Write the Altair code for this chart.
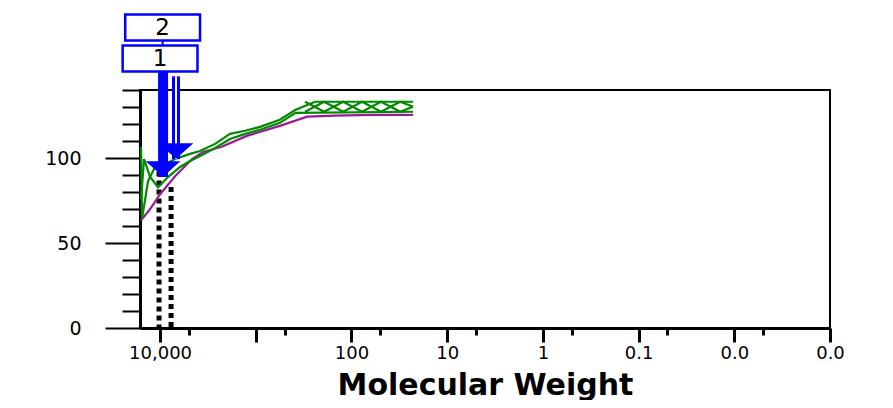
import altair as alt
import pandas as pd

# ---- data ----
purple_mw = [15800, 12700, 10000, 6970, 4630, 3550, 2300, 1240, 560, 290, 150, 60, 22.7]
purple_val = [63.3, 70, 78.7, 89.3, 99.4, 103.5, 106.5, 113, 118.9, 124.3, 124.9, 125.4, 125.4]

greenA_mw = [15800, 15400, 13350, 11280, 8870, 6970, 4860, 3820, 2660, 1860, 1290, 900, 560, 383, 240, 22.7]
greenA_val = [106.5, 64.5, 86.4, 94.7, 96.4, 99.4, 102.4, 104.1, 108.3, 114.2, 116, 118.3, 122.5, 128.4, 133.1, 133.1]

greenB_mw = [15800, 14700, 12700, 10500, 8250, 6180, 4860, 3820, 2660, 1860, 1290, 900, 560, 383, 22.7]
greenB_val = [75.7, 99.4, 88.8, 82.8, 88.8, 94.7, 98.2, 101.2, 105.9, 111.2, 114.2, 116.6, 120.7, 126.6, 127.2]

greenC_mw = [305, 193, 122, 77.5, 49.1, 31.0, 22.7]
greenC_val = [127.2, 133.1, 127.2, 133.1, 127.2, 133.1, 130.2]

greenD_mw = [305, 193, 122, 77.5, 49.1, 31.0, 22.7]
greenD_val = [133.1, 127.2, 133.1, 127.2, 133.1, 127.2, 130.2]

peak_labels = ["1", "2"]
peak_label_mw = [10000, 9400]
arrow_mw = [9300, 6810]
arrow_tip = [88.8, 99.4]
arrow_top = [151.5, 148]
dotted_mw = [10250, 7670]
dotted_top = [92, 83]

x_major = [10000, 1000, 100, 10, 1, 0.1, 0.01, 0.001]
x_minor = [5000, 500, 50, 5, 0.5, 0.05, 0.005]
y_ticks = list(range(0, 150, 10))

# ---- tables ----
series = [("purple", purple_mw, purple_val), ("greenA", greenA_mw, greenA_val),
          ("greenB", greenB_mw, greenB_val), ("greenC", greenC_mw, greenC_val),
          ("greenD", greenD_mw, greenD_val)]
lines = pd.concat([
    pd.DataFrame({"mw": m, "val": v, "s": s, "o": range(len(m))}) for s, m, v in series
])
arrows = pd.DataFrame({"mw": arrow_mw, "tip": arrow_tip, "top": arrow_top, "label": peak_labels})
labels = pd.DataFrame({"mw": peak_label_mw, "label": peak_labels})
dotted = pd.DataFrame({"mw": dotted_mw, "top": dotted_top, "base": [0] * len(dotted_mw)})

FONT = "DejaVu Sans"
BLUE = "#0000ff"
GREEN = "#008a00"

xscale = alt.Scale(type="log", domain=[0.001, 16200], reverse=True, nice=False)
yscale = alt.Scale(domain=[0, 140], nice=False)

xaxis = alt.Axis(
    values=x_major + x_minor,
    labelExpr="abs(log(datum.value)/LN10 - round(log(datum.value)/LN10)) > 0.01 || datum.value == 1000 ? '' : (datum.value >= 1 ? format(datum.value, ',') : format(datum.value, '.1f'))",
    tickSize={"condition": {"test": "abs(log(datum.value)/LN10 - round(log(datum.value)/LN10)) < 0.01", "value": 14}, "value": 7},
    tickWidth=3, tickColor="black", domainColor="black", domainWidth=3,
    labelFont=FONT, labelFontSize=18, labelColor="black", labelPadding=2,
    labelOverlap=False, labelFlush=False, grid=False,
    title="Molecular Weight", titleFont=FONT, titleFontSize=30, titleFontWeight="bold",
    titleColor="black", titleBaseline="bottom", titleY=72,
)
yaxis = alt.Axis(
    values=y_ticks,
    labelExpr="datum.value % 50 == 0 ? format(datum.value, 'd') : ''",
    tickSize={"condition": {"test": "datum.value % 50 == 0", "value": 35}, "value": 18},
    tickWidth=2, tickColor="black", domainColor="black", domainWidth=3,
    labelFont=FONT, labelFontSize=19, labelColor="black", labelPadding=24,
    labelOverlap=False, grid=False, title=None,
)


def X(field):
    return alt.X(field, type="quantitative", scale=xscale, axis=xaxis)


def Y(field):
    return alt.Y(field, type="quantitative", scale=yscale, axis=yaxis)


curve = alt.Chart(lines).mark_line(strokeWidth=2.2, interpolate="linear").encode(
    x=X("mw"), y=Y("val"), detail="s:N", order="o:Q",
    color=alt.Color("s:N", scale=alt.Scale(domain=["purple", "greenA", "greenB", "greenC", "greenD"],
                                           range=["#9a1a9a", GREEN, GREEN, GREEN, GREEN]), legend=None),
)

dots = alt.Chart(dotted).mark_rule(color="black", strokeWidth=5, strokeDash=[5, 4]).encode(
    x=X("mw"), y=Y("top"), y2="base:Q",
)

shaft1 = alt.Chart(arrows).transform_filter("datum.label == '1'").mark_rule(
    color=BLUE, strokeWidth=10).encode(x=X("mw"), y=Y("top"), y2="tip:Q")
shaft2 = alt.Chart(arrows).transform_filter("datum.label == '2'").mark_rule(
    color=BLUE, strokeWidth=8).encode(x=X("mw"), y=Y("top"), y2="tip:Q")
shaft2in = alt.Chart(arrows).transform_filter("datum.label == '2'").mark_rule(
    color="white", strokeWidth=2).encode(x=X("mw"), y=Y("top"), y2="tip:Q")

heads = alt.Chart(arrows).mark_point(
    shape="M-1,-0.45L1,-0.45L0,0.45Z", filled=True, color=BLUE, opacity=1, size=1200, yOffset=-8,
).encode(x=X("mw"), y=Y("tip"))

connector = alt.Chart(labels).transform_filter("datum.label == '2'").mark_rule(
    color=BLUE, strokeWidth=2).encode(x=X("mw"), y=alt.value(-50), y2=alt.value(-44))

box_layers = []
for lab, ypx in (("1", -31.5), ("2", -62.5)):
    base = alt.Chart(labels).transform_filter(f"datum.label == '{lab}'")
    box_layers.append(base.mark_point(
        shape="M-1,-0.35L1,-0.35L1,0.35L-1,0.35Z", filled=True, fill="white", stroke=BLUE,
        strokeWidth=2.5, opacity=1, size=5600,
    ).encode(x=X("mw"), y=alt.value(ypx)))
    box_layers.append(base.mark_text(font=FONT, fontSize=23, color="black", baseline="middle").encode(
        x=X("mw"), y=alt.value(ypx), text="label:N"))

chart = alt.layer(
    dots, curve, shaft2, shaft2in, shaft1, heads, connector, *box_layers
).properties(
    width=690, height=238,
    padding={"left": 132, "top": 82, "right": 40, "bottom": 72},
    autosize=alt.AutoSizeParams(type="none"),
).configure(
    background="white",
    view=alt.ViewConfig(stroke="black", strokeWidth=2),
)

chart.save("out.html", embed_options={"renderer": "svg", "actions": False})
